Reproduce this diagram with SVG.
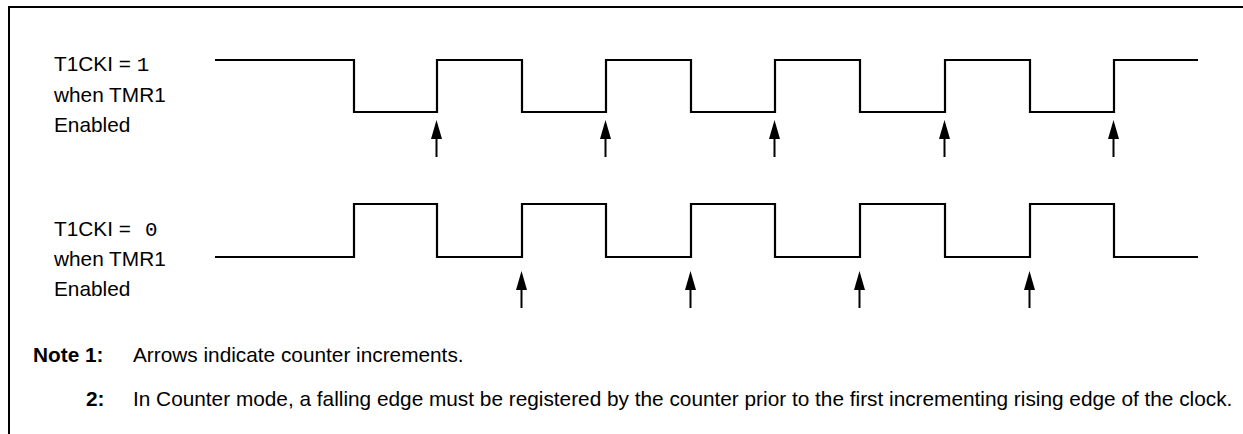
<svg xmlns="http://www.w3.org/2000/svg" xmlns:xlink="http://www.w3.org/1999/xlink" width="1243" height="434" viewBox="0 0 1243 434">
<style>
.t{font-family:"Liberation Sans",Arial,sans-serif;font-size:20.8px;fill:#000}
.m{font-family:"Liberation Mono","Courier New",monospace;font-size:20.8px}
.b{font-weight:bold}
.w{fill:none;stroke:#000;stroke-width:2.2}
.f{fill:none;stroke:#000;stroke-width:2}
</style>
<defs>
<g id="arr">
<polygon points="0,0 -5.5,19 5.5,19" fill="#000"/>
<line x1="0" y1="18" x2="0" y2="37" stroke="#000" stroke-width="2"/>
</g>
</defs>
<rect width="1243" height="434" fill="#fff"/>
<g id="frame"><path class="f" d="M9,434 V7 H1243"/></g>
<g id="label-top">
<text class="t" x="54" y="71">T1CKI = <tspan class="m">1</tspan></text>
<text class="t" x="54" y="102">when TMR1</text>
<text class="t" x="54" y="132">Enabled</text>
</g>
<g id="label-bottom">
<text class="t" x="54" y="236">T1CKI = <tspan class="m" x="145">0</tspan></text>
<text class="t" x="54" y="266">when TMR1</text>
<text class="t" x="54" y="296">Enabled</text>
</g>
<g id="wave-top"><path class="w" d="M215,60 H354 V112 H437 V60 H522 V112 H606 V60 H691 V112 H775 V60 H860 V112 H945 V60 H1030 V112 H1114 V60 H1198"/></g>
<g id="wave-bottom"><path class="w" d="M215,257 H354 V204 H437 V257 H522 V204 H606 V257 H691 V204 H775 V257 H860 V204 H945 V257 H1030 V204 H1114 V257 H1198"/></g>
<g id="connectors">
<use xlink:href="#arr" x="436.5" y="120"/>
<use xlink:href="#arr" x="605.5" y="120"/>
<use xlink:href="#arr" x="774.5" y="120"/>
<use xlink:href="#arr" x="944.5" y="120"/>
<use xlink:href="#arr" x="1113.5" y="120"/>
<use xlink:href="#arr" x="521.5" y="271"/>
<use xlink:href="#arr" x="690.5" y="271"/>
<use xlink:href="#arr" x="859.5" y="271"/>
<use xlink:href="#arr" x="1029.5" y="271"/>
</g>
<g id="notes">
<text class="t b" x="33" y="362">Note</text>
<text class="t b" x="85" y="362">1:</text>
<text class="t" x="133" y="362">Arrows indicate counter increments.</text>
<text class="t b" x="86" y="406">2:</text>
<text class="t" x="133" y="406">In Counter mode, a falling edge must be registered by the counter prior to the first incrementing rising edge of the clock.</text>
</g>
</svg>
